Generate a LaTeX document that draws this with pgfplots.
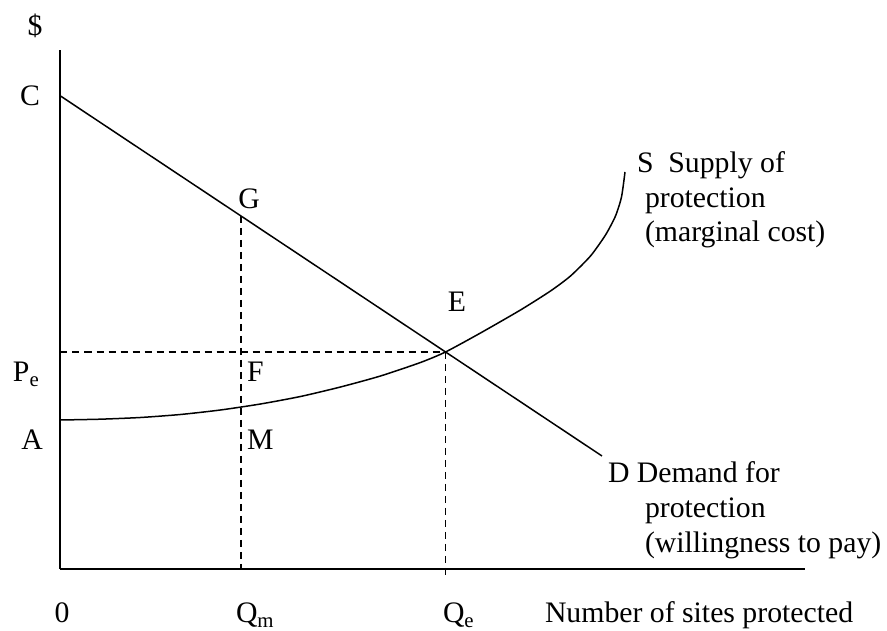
\documentclass[border=0pt]{standalone}
\usepackage{pgfplots}
\pgfplotsset{compat=1.18}
\usepackage{fontspec}
\setmainfont{Liberation Serif}
\begin{document}
\fontsize{11.9}{14}\selectfont
\begin{tikzpicture}[every node/.append style={inner sep=0pt, outer sep=0pt}]
\begin{axis}[
  x=0.4pt, y=0.4pt,
  xmin=0, xmax=744.5, ymin=0, ymax=519,
  axis lines=left,
  axis line style={line width=0.8pt, -},
  every outer x axis line/.append style={-},
  every outer y axis line/.append style={-},
  ticks=none,
  clip=false,
  nodes={inner sep=0pt, outer sep=0pt},
]
\coordinate (bl) at (axis cs:-60.5,-62);
\coordinate (tr) at (axis cs:826.5,569);
% demand
\addplot[black, line width=0.6pt] coordinates {(0,473) (541.5,113)};
% supply
\addplot[black, line width=0.6pt, smooth, tension=0.4] coordinates {
(0,149) (40,149.8) (80,151.5) (120,154.5) (160,159) (200,165) (240,172.5)
(280,182) (320,193) (360,206.5) (385,217) (420,236) (460,259) (490,278)
(510,293) (530,313) (545,334) (555,353) (561,372) (564.5,397)};
% dashed guides
\addplot[black, line width=0.55pt, dash pattern=on 2.8pt off 2pt] coordinates {(0,217) (385,217)};
\addplot[black, line width=0.55pt, dash pattern=on 2.8pt off 2pt] coordinates {(385,217) (385,-9)};
\addplot[black, line width=0.55pt, dash pattern=on 2.8pt off 2pt] coordinates {(180.5,353) (180.5,0)};
% labels
\node[inner sep=0pt] at (axis cs:-25.5,543) {\$};
\node[inner sep=0pt] at (axis cs:-30.5,473) {C};
\node[inner sep=0pt] at (axis cs:188.5,370) {G};
\node[inner sep=0pt] at (axis cs:396.5,267) {E};
\node[inner sep=0pt, anchor=base west] at (axis cs:-47.5,187) {P\textsubscript{e}};
\node[inner sep=0pt, anchor=base west] at (axis cs:186.5,187) {F};
\node[inner sep=0pt, anchor=base] at (axis cs:-28.5,119) {A};
\node[inner sep=0pt, anchor=base west] at (axis cs:186.5,119) {M};
\node[inner sep=0pt, anchor=base] at (axis cs:1.5,-54) {0};
\node[inner sep=0pt, anchor=base west] at (axis cs:175.5,-54) {Q\textsubscript{m}};
\node[inner sep=0pt, anchor=base west] at (axis cs:382.5,-54) {Q\textsubscript{e}};
\node[inner sep=0pt, anchor=base west] at (axis cs:484.5,-54) {Number of sites protected};
\node[inner sep=0pt, anchor=base west] at (axis cs:576.5,396) {S\ \ Supply of};
\node[inner sep=0pt, anchor=base west] at (axis cs:584.5,361) {protection};
\node[inner sep=0pt, anchor=base west] at (axis cs:584.5,327) {(marginal cost)};
\node[inner sep=0pt, anchor=base west] at (axis cs:547.5,86) {D Demand for};
\node[inner sep=0pt, anchor=base west] at (axis cs:584.5,51) {protection};
\node[inner sep=0pt, anchor=base west] at (axis cs:584.5,16) {(willingness to pay)};
\end{axis}
\pgfresetboundingbox
\path[use as bounding box] (bl) rectangle (tr);
\end{tikzpicture}
\end{document}
